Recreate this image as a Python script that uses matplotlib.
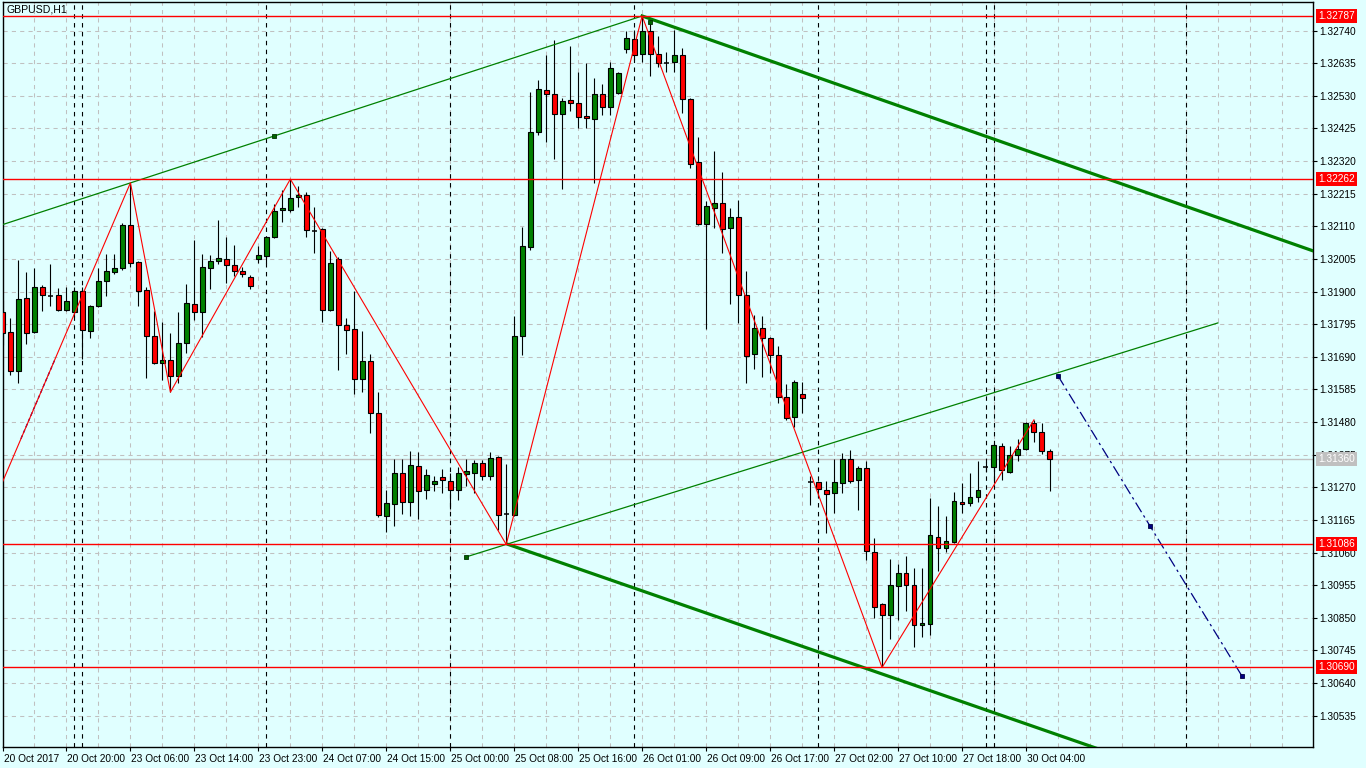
import matplotlib
matplotlib.use("Agg")
import matplotlib.pyplot as plt
import numpy as np
from matplotlib.transforms import ScaledTranslation

plt.rcParams['font.family'] = ['Liberation Sans', 'DejaVu Sans']

# ---------------- data ----------------
chart_title = "GBPUSD,H1"

opens = [1.31835, 1.31769, 1.31644, 1.31879, 1.31769, 1.31915, 1.31887, 1.31888, 1.31842, 1.31834,
         1.31901, 1.31772, 1.31852, 1.31933, 1.31962, 1.31975, 1.32115, 1.31995, 1.31904, 1.31756,
         1.31669, 1.31679, 1.31628, 1.31734, 1.31859, 1.31835, 1.31975, 1.31998, 1.32004, 1.31985,
         1.31966, 1.31947, 1.32004, 1.32016, 1.32074, 1.32161, 1.32164, 1.32204, 1.32210, 1.32095,
         1.32101, 1.31840, 1.32004, 1.31791, 1.31779, 1.31618, 1.31678, 1.31509, 1.31178, 1.31216,
         1.31315, 1.31224, 1.31337, 1.31262, 1.31280, 1.31304, 1.31290, 1.31262, 1.31314, 1.31315,
         1.31348, 1.31306, 1.31367, 1.31185, 1.31182, 1.31756, 1.32045, 1.32413, 1.32549, 1.32535,
         1.32471, 1.32517, 1.32506, 1.32465, 1.32455, 1.32535, 1.32493, 1.32539, 1.32681, 1.32712,
         1.32664, 1.32739, 1.32664, 1.32637, 1.32640, 1.32662, 1.32520, 1.32316, 1.32117, 1.32168,
         1.32184, 1.32104, 1.32141, 1.31888, 1.31699, 1.31784, 1.31750, 1.31695, 1.31561, 1.31496,
         1.31570, 1.31288, 1.31286, 1.31262, 1.31251, 1.31283, 1.31360, 1.31294, 1.31331, 1.31061,
         1.30894, 1.30860, 1.30952, 1.30994, 1.30955, 1.30826, 1.30831, 1.31109, 1.31075, 1.31095,
         1.31222, 1.31219, 1.31240, 1.31336, 1.31335, 1.31403, 1.31320, 1.31374, 1.31393, 1.31476,
         1.31449, 1.31388]

highs = [1.31873, 1.31815, 1.32002, 1.31964, 1.31977, 1.31922, 1.31988, 1.31912, 1.31914, 1.31914,
         1.31914, 1.31857, 1.31977, 1.32021, 1.32021, 1.32122, 1.32250, 1.31999, 1.31915, 1.31839,
         1.31802, 1.31766, 1.31835, 1.31925, 1.32066, 1.32021, 1.32018, 1.32131, 1.32075, 1.32050,
         1.31980, 1.31954, 1.32047, 1.32079, 1.32181, 1.32227, 1.32262, 1.32240, 1.32220, 1.32173,
         1.32105, 1.32031, 1.32011, 1.31816, 1.31903, 1.31772, 1.31699, 1.31577, 1.31262, 1.31362,
         1.31362, 1.31387, 1.31384, 1.31329, 1.31307, 1.31329, 1.31317, 1.31335, 1.31362, 1.31358,
         1.31358, 1.31384, 1.31371, 1.31345, 1.31822, 1.32109, 1.32542, 1.32581, 1.32662, 1.32710,
         1.32522, 1.32691, 1.32608, 1.32635, 1.32587, 1.32568, 1.32640, 1.32607, 1.32739, 1.32742,
         1.32787, 1.32774, 1.32721, 1.32672, 1.32742, 1.32683, 1.32523, 1.32396, 1.32190, 1.32353,
         1.32284, 1.32168, 1.32195, 1.31967, 1.31825, 1.31822, 1.31754, 1.31725, 1.31602, 1.31616,
         1.31608, 1.31306, 1.31290, 1.31291, 1.31360, 1.31380, 1.31390, 1.31339, 1.31355, 1.31106,
         1.30898, 1.31039, 1.31023, 1.31049, 1.31010, 1.31010, 1.31235, 1.31210, 1.31176, 1.31254,
         1.31283, 1.31317, 1.31355, 1.31352, 1.31412, 1.31414, 1.31403, 1.31425, 1.31479, 1.31487,
         1.31478, 1.31393]

lows = [1.31728, 1.31631, 1.31606, 1.31731, 1.31767, 1.31836, 1.31852, 1.31838, 1.31836, 1.31819,
        1.31682, 1.31750, 1.31850, 1.31887, 1.31956, 1.31968, 1.31980, 1.31852, 1.31623, 1.31666,
        1.31616, 1.31576, 1.31605, 1.31702, 1.31809, 1.31755, 1.31909, 1.31988, 1.31927, 1.31950,
        1.31948, 1.31909, 1.31991, 1.31993, 1.32072, 1.32125, 1.32157, 1.32173, 1.32077, 1.32023,
        1.31803, 1.31836, 1.31648, 1.31699, 1.31570, 1.31578, 1.31444, 1.31173, 1.31126, 1.31146,
        1.31183, 1.31179, 1.31167, 1.31232, 1.31259, 1.31251, 1.31200, 1.31229, 1.31275, 1.31253,
        1.31294, 1.31292, 1.31133, 1.31086, 1.31176, 1.31697, 1.32034, 1.32404, 1.32380, 1.32327,
        1.32231, 1.32482, 1.32426, 1.32428, 1.32248, 1.32469, 1.32469, 1.32536, 1.32667, 1.32646,
        1.32640, 1.32594, 1.32624, 1.32608, 1.32608, 1.32476, 1.32297, 1.32115, 1.31779, 1.32104,
        1.32023, 1.31859, 1.31800, 1.31605, 1.31652, 1.31624, 1.31637, 1.31541, 1.31487, 1.31465,
        1.31510, 1.31212, 1.31240, 1.31124, 1.31187, 1.31253, 1.31285, 1.31196, 1.31036, 1.30849,
        1.30690, 1.30782, 1.30843, 1.30873, 1.30757, 1.30787, 1.30795, 1.30999, 1.31063, 1.31091,
        1.31187, 1.31211, 1.31221, 1.31320, 1.31283, 1.31294, 1.31317, 1.31356, 1.31390, 1.31417,
        1.31377, 1.31259]

closes = [1.31767, 1.31644, 1.31875, 1.31766, 1.31914, 1.31888, 1.31887, 1.31840, 1.31869, 1.31901,
          1.31776, 1.31854, 1.31933, 1.31967, 1.31975, 1.32115, 1.31993, 1.31901, 1.31756, 1.31669,
          1.31679, 1.31628, 1.31735, 1.31863, 1.31835, 1.31978, 1.31999, 1.32007, 1.31984, 1.31966,
          1.31956, 1.31919, 1.32017, 1.32075, 1.32159, 1.32168, 1.32200, 1.32211, 1.32097, 1.32095,
          1.31840, 1.31991, 1.31792, 1.31776, 1.31618, 1.31676, 1.31509, 1.31180, 1.31219, 1.31315,
          1.31222, 1.31341, 1.31257, 1.31309, 1.31290, 1.31293, 1.31261, 1.31315, 1.31322, 1.31348,
          1.31306, 1.31364, 1.31182, 1.31185, 1.31756, 1.32046, 1.32415, 1.32551, 1.32535, 1.32471,
          1.32514, 1.32506, 1.32461, 1.32458, 1.32535, 1.32493, 1.32619, 1.32603, 1.32716, 1.32662,
          1.32739, 1.32664, 1.32637, 1.32637, 1.32662, 1.32519, 1.32310, 1.32117, 1.32176, 1.32184,
          1.32101, 1.32141, 1.31888, 1.31692, 1.31784, 1.31750, 1.31695, 1.31561, 1.31493, 1.31608,
          1.31557, 1.31288, 1.31264, 1.31248, 1.31286, 1.31360, 1.31291, 1.31331, 1.31066, 1.30886,
          1.30858, 1.30955, 1.30994, 1.30955, 1.30826, 1.30834, 1.31116, 1.31075, 1.31097, 1.31226,
          1.31216, 1.31240, 1.31262, 1.31336, 1.31406, 1.31326, 1.31374, 1.31393, 1.31476, 1.31449,
          1.31388, 1.31360]

time_labels = ["20 Oct 2017", "20 Oct 20:00", "23 Oct 06:00", "23 Oct 14:00", "23 Oct 23:00",
               "24 Oct 07:00", "24 Oct 15:00", "25 Oct 00:00", "25 Oct 08:00", "25 Oct 16:00",
               "26 Oct 01:00", "26 Oct 09:00", "26 Oct 17:00", "27 Oct 02:00", "27 Oct 10:00",
               "27 Oct 18:00", "30 Oct 04:00"]

price_ticks = [1.32740, 1.32635, 1.32530, 1.32425, 1.32320, 1.32215, 1.32110, 1.32005, 1.31900,
               1.31795, 1.31690, 1.31585, 1.31480, 1.31375, 1.31270, 1.31165, 1.31060, 1.30955,
               1.30850, 1.30745, 1.30640, 1.30535]

# day / week separators (bar index)
separator_bars = [9, 10, 33, 56, 79, 102, 123, 124, 148]

# horizontal levels
level_prices = [1.32787, 1.32262, 1.31086, 1.30690]
bid_price = 1.31360

# zigzag
zigzag_bars = [-6, 16, 21, 36, 63, 80, 110, 129]
zigzag_prices = [1.30926, 1.32250, 1.31576, 1.32262, 1.31086, 1.32787, 1.30690, 1.31487]

# trend lines (bar, price)
thin_line1_bars, thin_line1_prices = [-1, 80], [1.32107, 1.32787]
thin_line2_bars, thin_line2_prices = [58, 152], [1.31046, 1.31799]
thick_line1_bars, thick_line1_prices = [80, 170], [1.32787, 1.31976]
thick_line2_bars, thick_line2_prices = [63.25, 170], [1.31086, 1.30134]
green_marker_bars, green_marker_prices = [34, 58, 81], [1.32400, 1.31046, 1.32768]
proj_bars, proj_prices = [132, 143.5, 155], [1.31629, 1.31146, 1.30663]
blue_seg_bars, blue_seg_prices = [2.3, 6.6], [1.31426, 1.31684]

# ---------------- figure ----------------
W, H = 1366, 768
BG = '#E0FFFF'
fig = plt.figure(figsize=(W / 100, H / 100), dpi=100, facecolor=BG)
L_px, R_px, T_px, B_px = 2.5, 1313, 2, 747
ax = fig.add_axes([L_px / W, 1 - B_px / H, (R_px - L_px) / W, (B_px - T_px) / H])
ax.set_facecolor(BG)
ax.set_xlim(0.06, 163.9)
ax.set_ylim(1.30434, 1.32832)

n = len(opens)
xs = np.arange(n)
o = np.array(opens); h = np.array(highs); l = np.array(lows); c = np.array(closes)

# grid
grid_kw = dict(color='#C0C0C0', lw=0.75, ls=(0, (4, 4)), zorder=1)
for gx in range(4, 164, 4):
    ax.axvline(gx, **grid_kw)
for p in price_ticks:
    ax.axhline(p, **grid_kw)

# bid line
ax.axhline(bid_price, color='#C0C0C0', lw=1.0, zorder=1.5)

# separators
for sb in separator_bars:
    ax.axvline(sb, color='black', lw=0.8, ls=(0, (4, 4)), zorder=2)

# candles
ax.vlines(xs, l, h, color='black', lw=0.8, zorder=3)
body_w = 0.62
for i in range(n):
    if abs(c[i] - o[i]) < 0.000015:
        ax.hlines(o[i], i - body_w / 2, i + body_w / 2, color='black', lw=1.1, zorder=4)
    else:
        col = '#008000' if c[i] > o[i] else '#FF0000'
        ax.bar(i, abs(c[i] - o[i]), bottom=min(o[i], c[i]), width=body_w,
               color=col, edgecolor='black', linewidth=0.8, zorder=4)

# objects
ax.plot(blue_seg_bars, blue_seg_prices, color='#000080', lw=0.9, ls=(0, (3, 2)), zorder=5)
ax.plot(zigzag_bars, zigzag_prices, color='red', lw=0.8, zorder=7)
ax.plot(thin_line1_bars, thin_line1_prices, color='#008000', lw=0.9, zorder=6)
ax.plot(thin_line2_bars, thin_line2_prices, color='#008000', lw=0.9, zorder=6)
ax.plot(thick_line1_bars, thick_line1_prices, color='#008000', lw=2.3, zorder=6)
ax.plot(thick_line2_bars, thick_line2_prices, color='#008000', lw=2.3, zorder=6)
ax.plot(green_marker_bars, green_marker_prices, ls='none', marker='s', ms=3.5,
        mfc='#006400', mec='#003000', mew=0.6, zorder=8)
ax.plot(proj_bars, proj_prices, color='#000080', lw=0.9, ls=(0, (9, 3, 2, 3)), zorder=6)
ax.plot(proj_bars, proj_prices, ls='none', marker='s', ms=3.5, mfc='#000080',
        mec='#000040', mew=0.6, zorder=8)

for p in level_prices:
    ax.axhline(p, color='red', lw=1.0, zorder=7)

# spines
for s in ax.spines.values():
    s.set_color('black')
    s.set_linewidth(1.0)

# axes ticks
ax.yaxis.tick_right()
ax.set_yticks(price_ticks)
ax.set_yticklabels([f"{p:.5f}" for p in price_ticks])
ax.tick_params(axis='y', direction='out', length=3, width=0.8, pad=1.6,
               labelsize=7.3, colors='black')
ax.set_xticks(list(range(0, 8 * len(time_labels), 8)))
ax.set_xticklabels(time_labels, ha='left')
ax.tick_params(axis='x', direction='out', length=3, width=0.8, pad=2.2,
               labelsize=7.3, colors='black')
for lab in ax.get_xticklabels():
    lab.set_transform(lab.get_transform() + ScaledTranslation(1 / 100, 0, fig.dpi_scale_trans))

# price label boxes
def price_box(p, fc, tc):
    ax.annotate(f"{p:.5f}", xy=(1, p), xycoords=('axes fraction', 'data'),
                xytext=(3.9, 0), textcoords='offset points', ha='left', va='center',
                fontsize=7.3, color=tc, annotation_clip=False, zorder=20,
                bbox=dict(boxstyle='square,pad=0.2', fc=fc, ec='none'))

for p in level_prices:
    price_box(p, '#FF0000', 'white')
price_box(bid_price, '#C0C0C0', 'white')

fig.text(6.5 / W, 1 - 9 / H, chart_title, fontsize=7.6, va='center', ha='left', color='black')

fig.savefig('out.png', dpi=100, facecolor=BG)
